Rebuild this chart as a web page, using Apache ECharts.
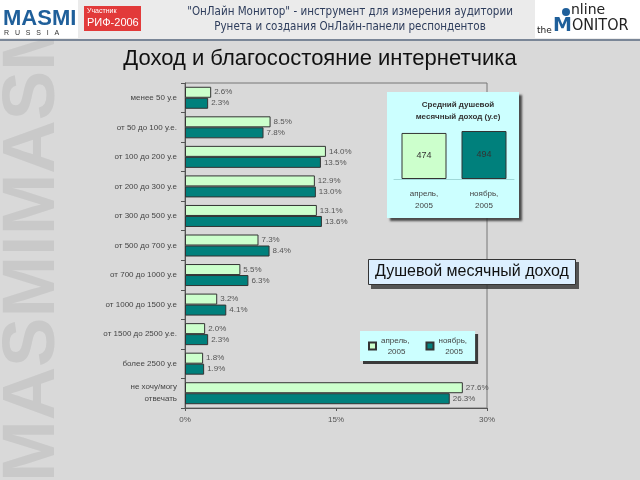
<!DOCTYPE html>
<html>
<head>
<meta charset="utf-8">
<script src="https://cdn.jsdelivr.net/npm/echarts@6/dist/echarts.min.js"></script>
<style>
  html, body { margin: 0; padding: 0; background: #d9d9d9; }
  #chart { width: 640px; height: 480px; }
</style>
</head>
<body>
<div id="chart"></div>
<script>
// категории дохода (у.е.)
var categories = [
    'менее 50 у.е',
    'от 50 до 100 у.е.',
    'от 100 до 200 у.е',
    'от 200 до 300 у.е',
    'от 300 до 500 у.е',
    'от 500 до 700 у.е',
    'от 700 до 1000 у.е',
    'от 1000 до 1500 у.е',
    'от 1500 до 2500 у.е.',
    'более 2500 у.е',
    'не хочу/могу\nотвечать'
];
// доли, %
var april2005 = [2.6, 8.5, 14.0, 12.9, 13.1, 7.3, 5.5, 3.2, 2.0, 1.8, 27.6];
var november2005 = [2.3, 7.8, 13.5, 13.0, 13.6, 8.4, 6.3, 4.1, 2.3, 1.9, 26.3];
var xTicks = [0, 15, 30];

// средний душевой доход (у.е)
var avgPeriods = ['апрель,\n2005', 'ноябрь,\n2005'];
var avgIncome = [474, 494];

var lightGreen = '#ccffcc';
var teal = '#00807c';

var chart = echarts.init(document.getElementById('chart'));

var labelStyle = {
    show: true,
    position: 'right',
    distance: 3,
    fontSize: 8,
    fontFamily: 'Liberation Sans',
    color: '#555',
    formatter: function (p) { return p.value.toFixed(1) + '%'; }
};

chart.setOption({
    backgroundColor: '#d9d9d9',
    animation: false,
    title: [{
        text: 'Доход и благосостояние интернетчика',
        left: 'center',
        top: 43,
        textStyle: { fontFamily: 'Liberation Sans', fontSize: 22, fontWeight: 'normal', color: '#111' }
    }, {
        text: 'Душевой месячный доход',
        left: 368,
        top: 259,
        padding: [5, 7, 5, 7],
        backgroundColor: '#dcefff',
        borderColor: '#333',
        borderWidth: 1,
        textStyle: { fontFamily: 'Liberation Sans', fontSize: 16, fontWeight: 'normal', color: '#111' }
    }, {
        text: 'Средний душевой\nмесячный доход (у.е)',
        left: 453,
        textAlign: 'center',
        top: 94,
        textStyle: { fontFamily: 'Liberation Sans', fontSize: 8, fontWeight: 'bold', color: '#333', lineHeight: 12 }
    }],
    legend: {
        data: ['апрель', 'ноябрь'],
        left: 360,
        top: 331,
        orient: 'horizontal',
        icon: 'rect',
        itemWidth: 7,
        itemHeight: 7,
        itemGap: 16,
        padding: [4, 8, 4, 8],
        backgroundColor: '#ccffff',
        shadowColor: 'rgba(40,40,40,0.9)',
        shadowOffsetX: 3,
        shadowOffsetY: 3,
        formatter: function (name) { return name + ',\n   2005'; },
        textStyle: { fontFamily: 'Liberation Sans', fontSize: 8, color: '#444', lineHeight: 11 }
    },
    graphic: [
        // водяной знак
        {
            type: 'text', x: 71, y: 482, rotation: Math.PI / 2, z: 0,
            style: { text: 'MASMIMASMI', fontFamily: 'Liberation Sans', fontWeight: 'bold', fontSize: 74, fill: '#c9c9c9', textVerticalAlign: 'bottom' }
        },
        // шапка
        { type: 'rect', shape: { x: 0, y: 0, width: 640, height: 39 }, style: { fill: '#ebebeb' }, z: 1 },
        { type: 'line', shape: { x1: 0, y1: 40, x2: 640, y2: 40 }, style: { stroke: '#5a6a80', lineWidth: 1.5 }, z: 1 },
        // логотипы
        { type: 'rect', shape: { x: 0, y: 0, width: 78, height: 38 }, style: { fill: '#ffffff' }, z: 1 },
        { type: 'text', x: 3, y: 8, z: 2, style: { text: 'MASMI', fontFamily: 'Liberation Sans', fontWeight: 'bold', fontSize: 22, fill: '#1f5f9a' } },
        { type: 'text', x: 4, y: 30, z: 2, style: { text: 'R   U   S   S   I   A', fontFamily: 'Liberation Sans', fontSize: 7, fill: '#333' } },
        { type: 'rect', shape: { x: 84, y: 6, width: 57, height: 25 }, style: { fill: '#e23a3a' }, z: 1 },
        { type: 'text', x: 87, y: 8, z: 2, style: { text: 'Участник', fontFamily: 'Liberation Sans', fontSize: 7, fill: '#fff' } },
        { type: 'text', x: 87, y: 17, z: 2, style: { text: 'РИФ-2006', fontFamily: 'Liberation Sans', fontSize: 11, fill: '#fff' } },
        { type: 'text', x: 350, y: 5, z: 2, style: { text: '"ОнЛайн Монитор" - инструмент для измерения аудитории\nРунета и создания ОнЛайн-панели респондентов', textAlign: 'center', fontFamily: 'DejaVu Sans Condensed', fontSize: 11.5, lineHeight: 15, fill: '#2e3d5c' } },
        { type: 'rect', shape: { x: 535, y: 0, width: 105, height: 38 }, style: { fill: '#ffffff' }, z: 1 },
        { type: 'circle', shape: { cx: 566, cy: 12, r: 4 }, style: { fill: '#1f5f9a' }, z: 2 },
        { type: 'text', x: 571, y: 3, z: 2, style: { text: 'nline', fontFamily: 'DejaVu Sans', fontSize: 14, fill: '#222' } },
        { type: 'text', x: 537, y: 26, z: 2, style: { text: 'the', fontFamily: 'DejaVu Sans', fontSize: 9, fill: '#222' } },
        { type: 'text', x: 553, y: 17, z: 2, style: { text: 'M', fontFamily: 'DejaVu Sans', fontWeight: 'bold', fontSize: 19, fill: '#1f5f9a' } },
        { type: 'text', x: 572, y: 18, z: 2, style: { text: 'ONITOR', fontFamily: 'DejaVu Sans Condensed', fontSize: 16, fill: '#222' } },
        // рамка вставки
        {
            type: 'rect', z: 1,
            shape: { x: 387, y: 92, width: 132, height: 126 },
            style: { fill: '#ccffff', shadowColor: 'rgba(40,40,40,0.8)', shadowOffsetX: 3, shadowOffsetY: 3, shadowBlur: 2 }
        },
        // тень подписи
        { type: 'rect', z: 5, shape: { x: 371, y: 262, width: 208, height: 27 }, style: { fill: 'rgba(50,50,50,0.8)' } }
    ],
    grid: [{
        left: 185, right: 153, top: 83, bottom: 72,
        show: true,
        backgroundColor: 'transparent',
        borderColor: '#777',
        borderWidth: 1
    }, {
        left: 394, width: 120, top: 131, height: 48
    }],
    xAxis: [{
        type: 'value',
        gridIndex: 0,
        min: xTicks[0],
        max: xTicks[xTicks.length - 1],
        interval: xTicks[1] - xTicks[0],
        axisLine: { show: true, lineStyle: { color: '#555' } },
        axisTick: { show: true, length: 3, lineStyle: { color: '#555' } },
        splitLine: { show: false },
        axisLabel: { fontSize: 8, fontFamily: 'Liberation Sans', color: '#555', margin: 8, formatter: '{value}%' }
    }, {
        type: 'category',
        gridIndex: 1,
        z: 3,
        data: avgPeriods,
        axisLine: { show: true, lineStyle: { color: '#9fd8d8' } },
        axisTick: { show: false },
        axisLabel: { fontSize: 8, fontFamily: 'Liberation Sans', color: '#444', margin: 9, lineHeight: 12 }
    }],
    yAxis: [{
        type: 'category',
        gridIndex: 0,
        inverse: true,
        data: categories,
        axisLine: { show: true, lineStyle: { color: '#555' } },
        axisTick: { show: true, length: 4, lineStyle: { color: '#555' } },
        axisLabel: { fontSize: 8, fontFamily: 'Liberation Sans', color: '#444', margin: 8, lineHeight: 12 }
    }, {
        type: 'value',
        gridIndex: 1,
        min: 0,
        max: 494,
        show: false
    }],
    series: [{
        name: 'апрель',
        type: 'bar',
        xAxisIndex: 0, yAxisIndex: 0,
        data: april2005,
        barWidth: 11,
        barGap: '0%',
        itemStyle: { color: lightGreen, borderColor: '#333', borderWidth: 1 },
        label: labelStyle
    }, {
        name: 'ноябрь',
        type: 'bar',
        xAxisIndex: 0, yAxisIndex: 0,
        data: november2005,
        barWidth: 11,
        barGap: '0%',
        itemStyle: { color: teal, borderColor: '#333', borderWidth: 1 },
        label: labelStyle
    }, {
        name: 'средний',
        type: 'bar',
        xAxisIndex: 1, yAxisIndex: 1,
        z: 3,
        barWidth: 45,
        data: avgIncome.map(function (v, i) {
            return { value: v, itemStyle: { color: i === 0 ? lightGreen : teal, borderColor: '#333', borderWidth: 1 } };
        }),
        label: { show: true, position: 'inside', fontSize: 9, fontFamily: 'Liberation Sans', color: '#333' }
    }]
});
</script>
</body>
</html>
